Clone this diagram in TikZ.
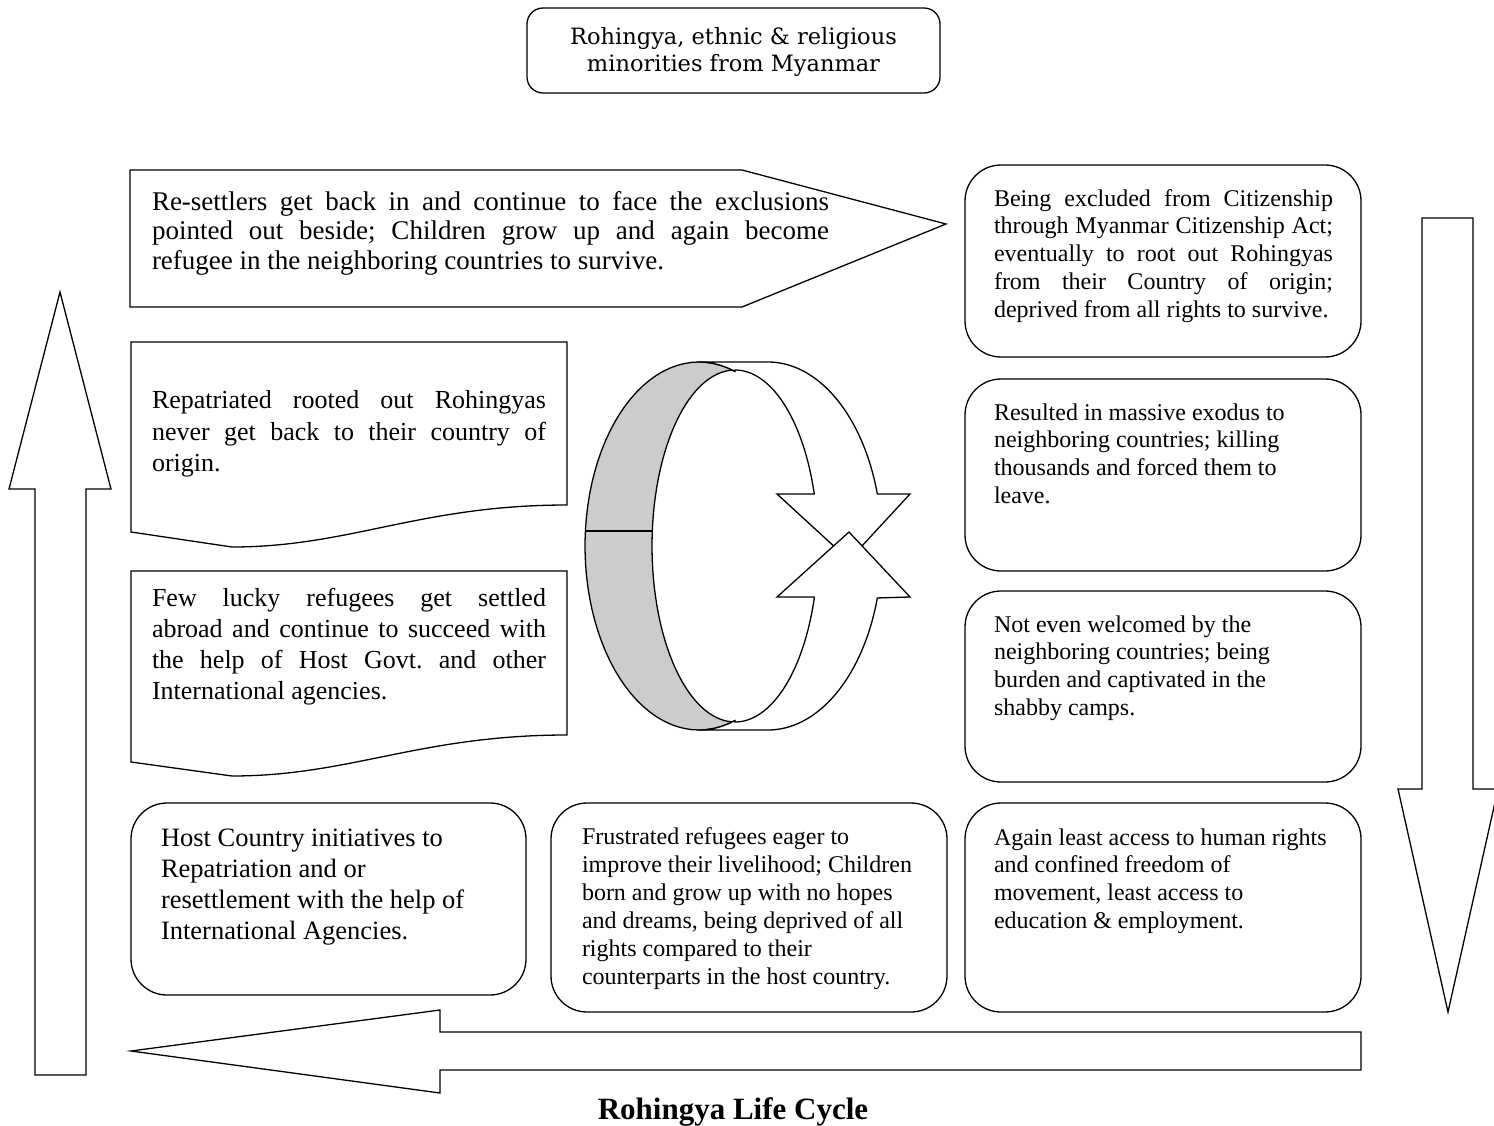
\documentclass[tikz,border=0pt]{standalone}
\usepackage{fontspec}
\setmainfont{Liberation Serif}
\newfontfamily\bookfont{DejaVu Serif}
\newcommand\fsz[2]{\fontsize{#1pt}{#2pt}\selectfont}
\tikzset{
  shp/.style={draw=black, line width=1.3pt, fill=white, line join=miter},
  ln/.style={draw=black, line width=1.3pt},
  rbox/.style={shp, rounded corners=36pt, inner sep=0pt},
  txt/.style={inner sep=0pt, outer sep=0pt, anchor=north west, align=justify},
  rag/.style={inner sep=0pt, outer sep=0pt, anchor=north west, align=left},
}
\begin{document}
\frenchspacing
\hyphenpenalty=10000 \exhyphenpenalty=10000 \tolerance=10000 \hbadness=10000 \hfuzz=60pt
\begin{tikzpicture}[x=1pt,y=-1pt]
\useasboundingbox (0,0) rectangle (1494,1126);
\fill[white] (0,0) rectangle (1494,1126);

% top box
\node[rbox, rounded corners=16pt, minimum width=413pt, minimum height=85pt] (top) at (733.5,50.5) {};
\node[inner sep=0pt, align=center, font={\bookfont\fsz{22.5}{27}}] (toptxt) at (733.5,52) {Rohingya, ethnic \& religious\\minorities from Myanmar};

% pentagon arrow
\draw[shp] (130,170) -- (742,170) -- (946,224) -- (742,307) -- (130,307) -- cycle;
\node[txt, text width=677pt, font={\fsz{27}{29.5}}] (resettle) at (152,191) {Re-settlers get back in and continue to face the exclusions\linebreak pointed out beside; Children grow up and again become\linebreak refugee in the neighboring countries to survive.};

% document shapes
\draw[shp] (131,342) -- (567,342) -- (567,505) .. controls (420,505) and (350,547) .. (232,547) -- (131,532) -- cycle;
\node[txt, text width=394pt, font={\fsz{26}{31.5}}] (repat) at (152,390.5) {Repatriated rooted out Rohingyas\linebreak never get back to their country of\linebreak origin.};
\draw[shp] (131,571) -- (567,571) -- (567,735) .. controls (420,735) and (350,776) .. (232,776) -- (131,762) -- cycle;
\node[txt, text width=394pt, font={\fsz{26}{31}}] (lucky) at (152,588.5) {Few lucky refugees get settled\linebreak abroad and continue to succeed with\linebreak the help of Host Govt. and other\linebreak International agencies.};

% right boxes
\node[rbox, minimum width=396pt, minimum height=192pt] (bA) at (1163,261) {};
\node[txt, text width=339pt, font={\fsz{24}{27.7}}] (tA) at (994,189.4) {Being excluded from Citizenship\linebreak through Myanmar Citizenship Act;\linebreak eventually to root out Rohingyas\linebreak from their Country of origin;\linebreak deprived from all rights to survive.};
\node[rbox, minimum width=396pt, minimum height=192pt] (bB) at (1163,475) {};
\node[rag, font={\fsz{24}{27.7}}] (tB) at (994,403.4) {Resulted in massive exodus to\\neighboring countries; killing\\thousands and forced them to\\leave.};
\node[rbox, minimum width=396pt, minimum height=191pt] (bC) at (1163,686.5) {};
\node[rag, font={\fsz{24}{27.7}}] (tC) at (994,615.4) {Not even welcomed by the\\neighboring countries; being\\burden and captivated in the\\shabby camps.};
\node[rbox, minimum width=396pt, minimum height=209pt] (bD) at (1163,907.5) {};
\node[rag, font={\fsz{24}{27.7}}] (tD) at (994,828.4) {Again least access to human rights\\and confined freedom of\\movement, least access to\\education \& employment.};

% bottom boxes
\node[rbox, minimum width=395pt, minimum height=192pt] (bL) at (328.5,899) {};
\node[rag, font={\fsz{26.5}{31}}] (tL) at (161,828.5) {Host Country initiatives to\\Repatriation and or\\resettlement with the help of\\International Agencies.};
\node[rbox, minimum width=396pt, minimum height=209pt] (bM) at (749,907.5) {};
\node[rag, font={\fsz{24}{28}}] (tM) at (582,827.4) {Frustrated refugees eager to\\improve their livelihood; Children\\born and grow up with no hopes\\and dreams, being deprived of all\\rights compared to their\\counterparts in the host country.};

% big arrows
\draw[shp] (35,1075) -- (35,489) -- (9,489) -- (60,292) -- (111,489) -- (86,489) -- (86,1075) -- cycle;
\draw[shp] (1422,218) -- (1473,218) -- (1473,789) -- (1498,789) -- (1448,1012) -- (1398,789) -- (1422,789) -- cycle;
\draw[shp] (1361,1032) -- (1361,1070) -- (440,1070) -- (440,1093) -- (131,1051) -- (440,1010) -- (440,1032) -- cycle;

% central circular arrow
\fill[black!20] plot[domain=71.6:288.4, samples=60] ({699+114*cos(\x)},{546+184*sin(\x)})
  -- plot[domain=270:90, samples=60] ({735+83*cos(\x)},{546+176*sin(\x)}) -- cycle;
\draw[ln] plot[domain=71.6:288.4, samples=60] ({699+114*cos(\x)},{546+184*sin(\x)});
\draw[ln] plot[domain=90:270, samples=60] ({735+83*cos(\x)},{546+176*sin(\x)});
\draw[ln] (585,531) -- (652,531);
\draw[shp] (699,362) -- (768,362)
  -- plot[domain=270:343.6, samples=40] ({768+114*cos(\x)},{546+184*sin(\x)})
  -- (910,494) -- (849,560) -- (777,494) -- (814,494)
  -- plot[domain=342.8:270, samples=40] ({735+83*cos(\x)},{546+176*sin(\x)})
  -- plot[domain=288.4:270, samples=10] ({699+114*cos(\x)},{546+184*sin(\x)}) -- cycle;
\draw[shp] (699,730) -- (768,730)
  -- plot[domain=90:16.4, samples=40] ({768+114*cos(\x)},{546+184*sin(\x)})
  -- (910,597) -- (849,532) -- (777,597) -- (814,597)
  -- plot[domain=17.2:90, samples=40] ({735+83*cos(\x)},{546+176*sin(\x)})
  -- plot[domain=71.6:90, samples=10] ({699+114*cos(\x)},{546+184*sin(\x)}) -- cycle;

% title
\node[inner sep=0pt, anchor=base, font={\bfseries\fsz{31}{36}}] (title) at (733,1119) {Rohingya Life Cycle};
\end{tikzpicture}
\end{document}
